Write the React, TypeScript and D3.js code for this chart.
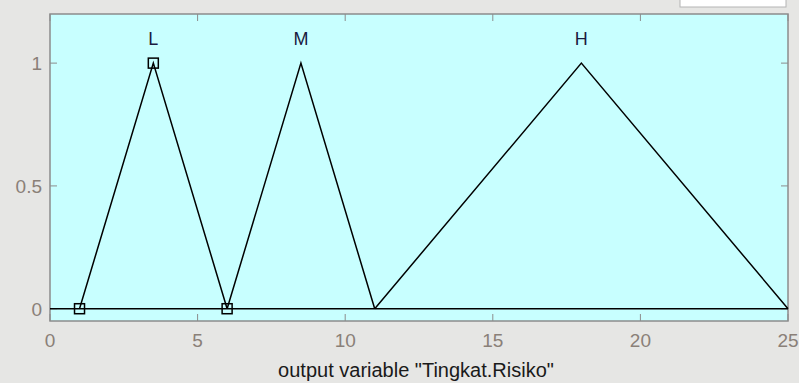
import React from 'react'
import * as d3 from 'd3'

const mfNames = ['L', 'M', 'H']
const mfParams = [
  [1, 3.5, 6],
  [6, 8.5, 11],
  [11, 18, 25]
]
const selectedMf = 0
const xTicks = [0, 5, 10, 15, 20, 25]
const yTicks = [0, 0.5, 1]
const xLabel = 'output variable "Tingkat.Risiko"'

const W = 799
const H = 383
const left = 50
const right = 788
const top = 14
const bottom = 321

export default function App () {
  const x = d3.scaleLinear().domain([0, 25]).range([left, right])
  const y = d3.scaleLinear().domain([-0.05, 1.2]).range([bottom, top])
  const line = d3.line<number[]>().x(d => x(d[0])).y(d => y(d[1]))
  const font = '"Liberation Sans", Arial, sans-serif'

  return (
    <svg width={W} height={H} viewBox={`0 0 ${W} ${H}`}
      style={{ position: 'absolute', left: 0, top: 0 }}>
      <rect width={W} height={H} fill='#e6e6e4' />
      <rect x={680} y={-4} width={106} height={11} fill='#ffffff' stroke='#b4b4b4' />
      <rect x={left} y={top} width={right - left} height={bottom - top}
        fill='#c8ffff' stroke='#8c8c8c' strokeWidth={1.5} />
      {xTicks.map(t => (
        <g key={'x' + t}>
          <line x1={x(t)} x2={x(t)} y1={bottom} y2={bottom - 7} stroke='#8c8c8c' />
          <line x1={x(t)} x2={x(t)} y1={top} y2={top + 7} stroke='#8c8c8c' />
          <text x={x(t)} y={347} textAnchor='middle' fontFamily={font}
            fontSize={19} fill='#8a8078'>{t}</text>
        </g>
      ))}
      {yTicks.map(t => (
        <g key={'y' + t}>
          <line x1={left} x2={left + 7} y1={y(t)} y2={y(t)} stroke='#8c8c8c' />
          <line x1={right} x2={right - 7} y1={y(t)} y2={y(t)} stroke='#8c8c8c' />
          <text x={42} y={y(t) + 7} textAnchor='end' fontFamily={font}
            fontSize={19} fill='#8a8078'>{t}</text>
        </g>
      ))}
      <line x1={left} x2={right} y1={y(0)} y2={y(0)} stroke='#000' strokeWidth={1.5} />
      {mfParams.map((p, i) => (
        <g key={mfNames[i]}>
          <path d={line([[p[0], 0], [p[1], 1], [p[2], 0]]) || ''}
            fill='none' stroke='#000' strokeWidth={1.5} />
          <text x={x(p[1])} y={y(1) - 18} textAnchor='middle' fontFamily={font}
            fontSize={18} fill='#1a1a40'>{mfNames[i]}</text>
        </g>
      ))}
      {mfParams[selectedMf].map((v, j) => (
        <rect key={'m' + j} x={x(v) - 5} y={y(j === 1 ? 1 : 0) - 5}
          width={10} height={10} fill='none' stroke='#000' strokeWidth={1.5} />
      ))}
      <text x={416} y={377} textAnchor='middle' fontFamily={font}
        fontSize={20} fill='#1a1a1a'>{xLabel}</text>
    </svg>
  )
}
